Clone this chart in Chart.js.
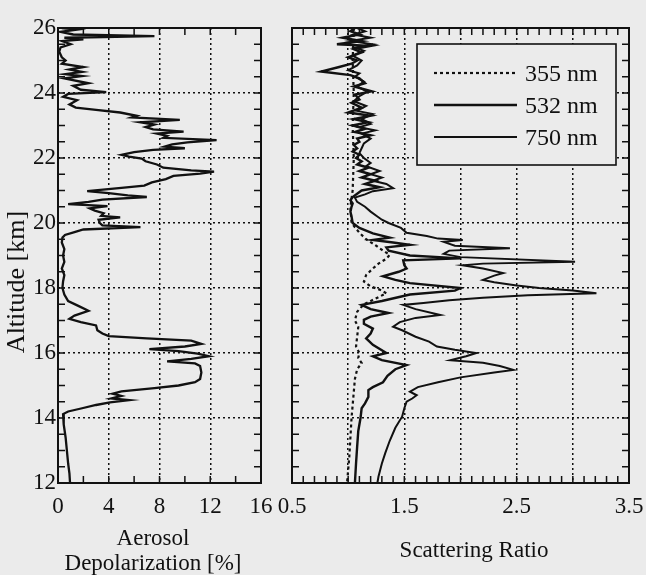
<!DOCTYPE html>
<html>
<head>
<meta charset="utf-8">
<title>Aerosol depolarization and scattering ratio</title>
<script src="https://cdn.jsdelivr.net/npm/chart.js@4.4.1/dist/chart.umd.min.js"></script>
<style>
  html, body { margin: 0; padding: 0; background: #ebebeb; }
  #wrap { position: relative; width: 646px; height: 575px; overflow: hidden; }
  canvas { position: absolute; top: 0; }
  #depol { left: 0; }
  #ratio { left: 268px; }
</style>
</head>
<body>
<div id="wrap">
  <canvas id="depol" width="285" height="575"></canvas>
  <canvas id="ratio" width="378" height="575"></canvas>
</div>
<script>
// Perfil de despolarização do aerossol (altitude em km, valor em %)
const depolAlt = [
  26.0, 25.95, 25.88, 25.8, 25.75, 25.7, 25.65, 25.6, 25.5, 25.4,
  25.27, 25.1, 25.0, 24.9, 24.8, 24.72, 24.65, 24.58, 24.52, 24.45,
  24.3, 24.22, 24.1, 24.03, 23.97, 23.88, 23.78, 23.65, 23.55, 23.48,
  23.4, 23.3, 23.25, 23.17, 23.1, 23.03, 22.95, 22.88, 22.81, 22.75,
  22.68, 22.62, 22.55, 22.48, 22.42, 22.35, 22.3, 22.25, 22.18, 22.1,
  22.04, 21.98, 21.9, 21.8, 21.7, 21.62, 21.58, 21.52, 21.45, 21.35,
  21.25, 21.15, 21.08, 20.98, 20.92, 20.85, 20.8, 20.72, 20.65, 20.58,
  20.52, 20.45, 20.38, 20.3, 20.22, 20.17, 20.1, 20.0, 19.93, 19.87,
  19.8, 19.72, 19.63, 19.55, 19.4, 19.2, 19.0, 18.8, 18.6, 18.4,
  18.2, 18.0, 17.8, 17.6, 17.45, 17.3, 17.15, 17.05, 16.95, 16.85,
  16.7, 16.6, 16.52, 16.45, 16.38, 16.28, 16.2, 16.12, 16.06, 15.98,
  15.9, 15.82, 15.74, 15.68, 15.6, 15.4, 15.2, 15.1, 15.0, 14.92,
  14.82, 14.75, 14.68, 14.6, 14.55, 14.48, 14.4, 14.3, 14.2, 14.12,
  13.8, 13.4, 13.0, 12.6, 12.3, 12.0
];
const depolValue = [
  0.3, 1.5, 0.2, 1.2, 7.6, 0.5, 2.0, 0.3, 1.0, 0.2,
  0.1, 0.3, 0.6, 0.3, 2.0, 0.9, 1.9, 0.6, 1.9, 0.5,
  2.4, 1.2, 1.8, 3.8, 0.8, 0.4, 1.5, 0.9, 1.4, 3.0,
  4.9, 6.2, 5.8, 9.6, 6.5, 7.6, 6.9, 7.5, 9.9, 7.8,
  8.6, 8.3, 12.5, 10.2, 9.0, 8.4, 10.0, 7.5, 6.0, 5.0,
  5.6, 6.6, 6.9, 7.8, 8.3, 10.5, 12.3, 11.2, 9.1, 8.5,
  7.4, 6.8, 5.0, 2.3, 4.0, 5.5, 7.0, 3.5, 2.4, 0.8,
  3.9, 2.5, 2.9, 3.6, 3.4, 4.9, 3.2, 3.3, 3.5, 6.5,
  2.0, 1.3, 0.55, 0.35, 0.3, 0.5, 0.4, 0.5, 0.3, 0.5,
  0.4, 0.35, 0.5, 0.8, 1.6, 2.4, 1.3, 0.9, 1.8, 3.0,
  3.1, 3.5, 4.0, 7.0, 10.5, 11.3, 10.0, 7.2, 9.5, 11.0,
  11.9, 10.5, 8.6, 10.8, 11.2, 11.3, 11.2, 10.8, 9.5, 7.6,
  5.0, 4.3, 5.0, 4.2, 5.6, 4.1, 3.0, 1.9, 0.8, 0.4,
  0.45, 0.6, 0.7, 0.8, 0.9, 0.95
];

// Razão de espalhamento em 355 nm
const alt355 = [
  26.0, 25.0, 24.0, 23.0, 22.0, 21.0, 20.5, 20.0, 19.7, 19.5,
  19.3, 19.22, 19.02, 18.9, 18.75, 18.6, 18.4, 18.2, 18.05, 17.95,
  17.84, 17.7, 17.5, 17.27, 17.0, 16.8, 16.5, 16.2, 16.0, 15.85,
  15.69, 15.5, 15.2, 14.8, 14.4, 14.0, 13.4, 12.8, 12.4, 12.0
];
const ratio355 = [
  1.05, 1.04, 1.05, 1.04, 1.05, 1.04, 1.02, 1.03, 1.1, 1.16,
  1.25, 1.28, 1.37, 1.34, 1.27, 1.22, 1.16, 1.14, 1.2, 1.28,
  1.34, 1.26, 1.14, 1.08, 1.06, 1.09, 1.08, 1.07, 1.1, 1.09,
  1.12, 1.08, 1.06, 1.05, 1.04, 1.03, 1.02, 1.01, 1.0, 0.99
];

// Razão de espalhamento em 532 nm
const alt532 = [
  26.0, 25.9, 25.8, 25.7, 25.6, 25.5, 25.45, 25.35, 25.25, 25.1,
  25.0, 24.9, 24.8, 24.66, 24.55, 24.45, 24.3, 24.2, 24.05, 23.95,
  23.8, 23.7, 23.55, 23.4, 23.3, 23.2, 23.1, 23.0, 22.9, 22.8,
  22.7, 22.6, 22.5, 22.4, 22.3, 22.2, 22.1, 22.0, 21.9, 21.8,
  21.7, 21.6, 21.5, 21.4, 21.3, 21.2, 21.1, 21.0, 20.9, 20.8,
  20.7, 20.6, 20.5, 20.35, 20.2, 20.0, 19.85, 19.68, 19.55, 19.48,
  19.4, 19.33, 19.25, 19.15, 19.0, 18.91, 18.85, 18.7, 18.6, 18.5,
  18.36, 18.25, 18.15, 18.0, 17.92, 17.8, 17.6, 17.48, 17.35, 17.23,
  17.12, 17.02, 16.9, 16.75, 16.6, 16.45, 16.25, 16.0, 15.9, 15.78,
  15.63, 15.5, 15.3, 15.1, 14.95, 14.86, 14.65, 14.45, 14.3, 14.0,
  13.6, 13.12, 12.6, 12.0
];
const ratio532 = [
  1.06, 1.02, 1.1, 0.95, 1.12, 0.9, 1.2, 1.05, 1.12, 1.0,
  1.08, 1.03, 0.92, 0.76, 1.02, 1.1, 1.15, 1.05, 1.21, 1.06,
  1.1, 1.03, 1.12, 1.0, 1.2, 1.05, 1.18, 1.04, 1.15, 1.06,
  1.2, 1.08, 1.1, 1.05, 1.08, 1.04, 1.1, 1.07, 1.12, 1.08,
  1.18, 1.1, 1.2, 1.12, 1.24, 1.15, 1.28, 1.12, 1.08, 1.04,
  1.02, 1.04, 1.03, 1.02, 1.03, 1.04, 1.1, 1.22, 1.37, 1.22,
  1.4, 1.55, 1.34, 1.36, 1.55, 2.0, 1.49, 1.5, 1.52, 1.45,
  1.31, 1.42, 1.55, 2.0, 1.95, 1.55, 1.3, 1.12, 1.2, 1.36,
  1.2, 1.14, 1.14, 1.22, 1.2, 1.16, 1.22, 1.34, 1.22, 1.3,
  1.52, 1.42, 1.35, 1.31, 1.22, 1.18, 1.18, 1.15, 1.12, 1.11,
  1.09, 1.08, 1.07, 1.06
];

// Razão de espalhamento em 750 nm
const alt750 = [
  26.0, 25.9, 25.8, 25.7, 25.6, 25.5, 25.4, 25.3, 25.15, 25.0,
  24.85, 24.7, 24.6, 24.5, 24.35, 24.2, 24.04, 23.9, 23.75, 23.6,
  23.45, 23.35, 23.2, 23.05, 22.95, 22.85, 22.75, 22.6, 22.45, 22.3,
  22.15, 22.0, 21.85, 21.75, 21.6, 21.5, 21.4, 21.3, 21.2, 21.07,
  20.98, 20.88, 20.78, 20.65, 20.5, 20.35, 20.2, 20.1, 20.0, 19.85,
  19.7, 19.6, 19.52, 19.48, 19.42, 19.3, 19.22, 19.15, 19.05, 18.95,
  18.81, 18.75, 18.7, 18.6, 18.46, 18.38, 18.25, 18.18, 18.08, 18.0,
  17.92, 17.84, 17.78, 17.7, 17.62, 17.54, 17.48, 17.35, 17.17, 17.08,
  16.95, 16.81, 16.7, 16.5, 16.35, 16.2, 16.1, 16.0, 15.9, 15.78,
  15.7, 15.6, 15.48, 15.4, 15.25, 15.1, 14.95, 14.81, 14.7, 14.6,
  14.5, 14.3, 14.04, 13.7, 13.3, 12.92, 12.6, 12.2, 12.0
];
const ratio750 = [
  1.08, 1.15, 1.05, 1.2, 1.02, 1.22, 1.06, 1.14, 1.04, 1.12,
  1.08, 1.0, 1.1, 1.06, 1.14, 1.08, 1.17, 1.1, 1.05, 1.16,
  1.08, 1.22, 1.12, 1.2, 1.1, 1.24, 1.12, 1.2, 1.14, 1.12,
  1.1, 1.14, 1.2, 1.16, 1.28, 1.2, 1.3, 1.22, 1.34, 1.40,
  1.22, 1.15, 1.06, 1.08, 1.15, 1.2, 1.26, 1.3, 1.36, 1.47,
  1.52, 1.7, 1.8, 2.02, 1.85, 1.95, 2.44, 1.9, 1.85, 2.0,
  3.02, 2.2, 2.02, 2.2, 2.38, 2.3, 2.2, 2.3, 2.5, 2.7,
  3.0, 3.21, 2.6, 2.2, 1.9, 1.67, 1.49, 1.6, 1.82, 1.6,
  1.46, 1.4, 1.48, 1.6, 1.72, 1.79, 1.95, 2.14, 2.05, 1.91,
  2.2, 2.35, 2.47, 2.3, 2.0, 1.8, 1.62, 1.55, 1.61, 1.57,
  1.52, 1.5, 1.48, 1.42, 1.37, 1.33, 1.30, 1.27, 1.26
];

const ink = '#111111';
const paper = '#ebebeb';
const serif = "'Liberation Serif', 'DejaVu Serif', serif";

Chart.defaults.font.family = serif;
Chart.defaults.color = ink;
Chart.defaults.animation = false;

// Função auxiliar: perfil vertical (x = valor, y = altitude)
function profile(alts, values) {
    return alts.map((h, i) => ({ x: values[i], y: h }));
}

function near(v, step) {
    const k = v / step;
    return Math.abs(k - Math.round(k)) < 1e-6;
}

// fixa o tamanho da caixa do eixo para posicionar a área do gráfico
function fixBox(size) {
    return function (s) {
        if (s.isHorizontal()) s.height = size; else s.width = size;
        s.paddingLeft = s.paddingRight = s.paddingTop = s.paddingBottom = 0;
    };
}

// ticks para dentro nos quatro lados, moldura, títulos e legenda
const framePlugin = {
    id: 'frame',
    afterDraw(chart, args, opts) {
        const { ctx, chartArea: a } = chart;
        const sx = chart.scales.x, sy = chart.scales.y;
        ctx.save();
        ctx.strokeStyle = ink;
        ctx.lineWidth = 1.5;
        ctx.setLineDash([]);
        ctx.beginPath();
        sx.ticks.forEach(t => {
            const p = sx.getPixelForValue(t.value);
            if (p < a.left + 2 || p > a.right - 2) return;
            ctx.moveTo(p, a.bottom); ctx.lineTo(p, a.bottom - opts.tick);
            ctx.moveTo(p, a.top); ctx.lineTo(p, a.top + opts.tick);
        });
        sy.ticks.forEach(t => {
            const p = sy.getPixelForValue(t.value);
            if (p < a.top + 2 || p > a.bottom - 2) return;
            ctx.moveTo(a.left, p); ctx.lineTo(a.left + opts.tick, p);
            ctx.moveTo(a.right, p); ctx.lineTo(a.right - opts.tick, p);
        });
        ctx.stroke();
        ctx.lineWidth = 2;
        ctx.strokeRect(a.left, a.top, a.right - a.left, a.bottom - a.top);

        ctx.fillStyle = ink;
        (opts.texts || []).forEach(t => {
            ctx.save();
            ctx.font = t.size + 'px ' + serif;
            ctx.textAlign = 'center';
            ctx.translate(t.x, t.y);
            if (t.rotate) { ctx.rotate(-Math.PI / 2); ctx.textBaseline = 'middle'; }
            else ctx.textBaseline = 'alphabetic';
            ctx.fillText(t.text, 0, 0);
            ctx.restore();
        });

        const lg = opts.legend;
        if (lg) {
            ctx.fillStyle = paper;
            ctx.fillRect(lg.left, lg.top, lg.right - lg.left, lg.bottom - lg.top);
            ctx.lineWidth = 1.6;
            ctx.strokeRect(lg.left, lg.top, lg.right - lg.left, lg.bottom - lg.top);
            ctx.font = lg.size + 'px ' + serif;
            ctx.textAlign = 'left';
            ctx.textBaseline = 'alphabetic';
            chart.data.datasets.forEach((ds, i) => {
                const y = lg.firstRow + i * lg.rowGap;
                ctx.strokeStyle = ds.borderColor;
                ctx.lineWidth = ds.borderWidth;
                ctx.setLineDash(ds.borderDash || []);
                ctx.beginPath();
                ctx.moveTo(lg.lineFrom, y);
                ctx.lineTo(lg.lineTo, y);
                ctx.stroke();
                ctx.setLineDash([]);
                ctx.fillStyle = ink;
                ctx.fillText(ds.label, lg.textX, y + 8);
            });
        }
        ctx.restore();
    }
};

function gridColor(test) {
    return c => (c.tick && test(c.tick.value) ? ink : 'rgba(0,0,0,0)');
}

const tickFont = { size: 23 };

// Painel esquerdo: despolarização
new Chart(document.getElementById('depol'), {
    type: 'scatter',
    data: {
        datasets: [{
            label: 'Aerosol Depolarization',
            data: profile(depolAlt, depolValue),
            showLine: true,
            pointRadius: 0,
            borderColor: ink,
            borderWidth: 2.3,
            tension: 0
        }]
    },
    options: {
        responsive: false,
        layout: { padding: { top: 28, right: 24, bottom: 0, left: 0 } },
        plugins: {
            legend: { display: false },
            tooltip: { enabled: false },
            frame: {
                tick: 7,
                texts: [
                    { text: 'Altitude [km]', x: 17, y: 282, size: 26, rotate: true },
                    { text: 'Aerosol', x: 153, y: 545, size: 23 },
                    { text: 'Depolarization [%]', x: 153, y: 570, size: 23 }
                ]
            }
        },
        scales: {
            x: {
                min: 0, max: 16,
                afterFit: fixBox(92),
                ticks: {
                    stepSize: 2, autoSkip: false, maxRotation: 0, padding: 10, font: tickFont,
                    callback: v => (near(v, 4) ? String(v) : '')
                },
                grid: { drawTicks: false, lineWidth: 1.5, color: gridColor(v => near(v, 4) && v > 0 && v < 16) },
                border: { display: false, dash: [2, 3] }
            },
            y: {
                min: 12, max: 26,
                afterFit: fixBox(58),
                ticks: {
                    stepSize: 0.5, autoSkip: false, padding: 2, font: tickFont,
                    callback: v => (near(v, 2) ? String(v) : '')
                },
                grid: { drawTicks: false, lineWidth: 1.5, color: gridColor(v => near(v, 2) && v > 12 && v < 26) },
                border: { display: false, dash: [2, 3] }
            }
        }
    },
    plugins: [framePlugin]
});

// Painel direito: razão de espalhamento
new Chart(document.getElementById('ratio'), {
    type: 'scatter',
    data: {
        datasets: [
            { label: '355 nm', data: profile(alt355, ratio355), borderDash: [3, 3], borderWidth: 2.2 },
            { label: '532 nm', data: profile(alt532, ratio532), borderWidth: 2.4 },
            { label: '750 nm', data: profile(alt750, ratio750), borderWidth: 2 }
        ].map(ds => ({ showLine: true, pointRadius: 0, borderColor: ink, tension: 0, ...ds }))
    },
    options: {
        responsive: false,
        layout: { padding: { top: 28, right: 17, bottom: 0, left: 0 } },
        plugins: {
            legend: { display: false },
            tooltip: { enabled: false },
            frame: {
                tick: 7,
                texts: [
                    { text: 'Scattering Ratio', x: 206, y: 557, size: 23 }
                ],
                legend: {
                    left: 149, top: 44, right: 348, bottom: 165,
                    lineFrom: 166, lineTo: 249, textX: 257,
                    firstRow: 73, rowGap: 32, size: 24
                }
            }
        },
        scales: {
            x: {
                min: 0.5, max: 3.5,
                afterFit: fixBox(92),
                ticks: {
                    stepSize: 0.1, autoSkip: false, maxRotation: 0, padding: 10, font: tickFont,
                    callback: v => (near(v - 0.5, 1) ? v.toFixed(1) : '')
                },
                grid: { drawTicks: false, lineWidth: 1.5, color: gridColor(v => near(v, 0.5) && v > 0.55 && v < 3.45) },
                border: { display: false, dash: [2, 3] }
            },
            y: {
                min: 12, max: 26,
                afterFit: fixBox(24),
                ticks: { stepSize: 0.5, autoSkip: false, display: false },
                grid: { drawTicks: false, lineWidth: 1.5, color: gridColor(v => near(v, 2) && v > 12 && v < 26) },
                border: { display: false, dash: [2, 3] }
            }
        }
    },
    plugins: [framePlugin]
});
</script>
</body>
</html>
